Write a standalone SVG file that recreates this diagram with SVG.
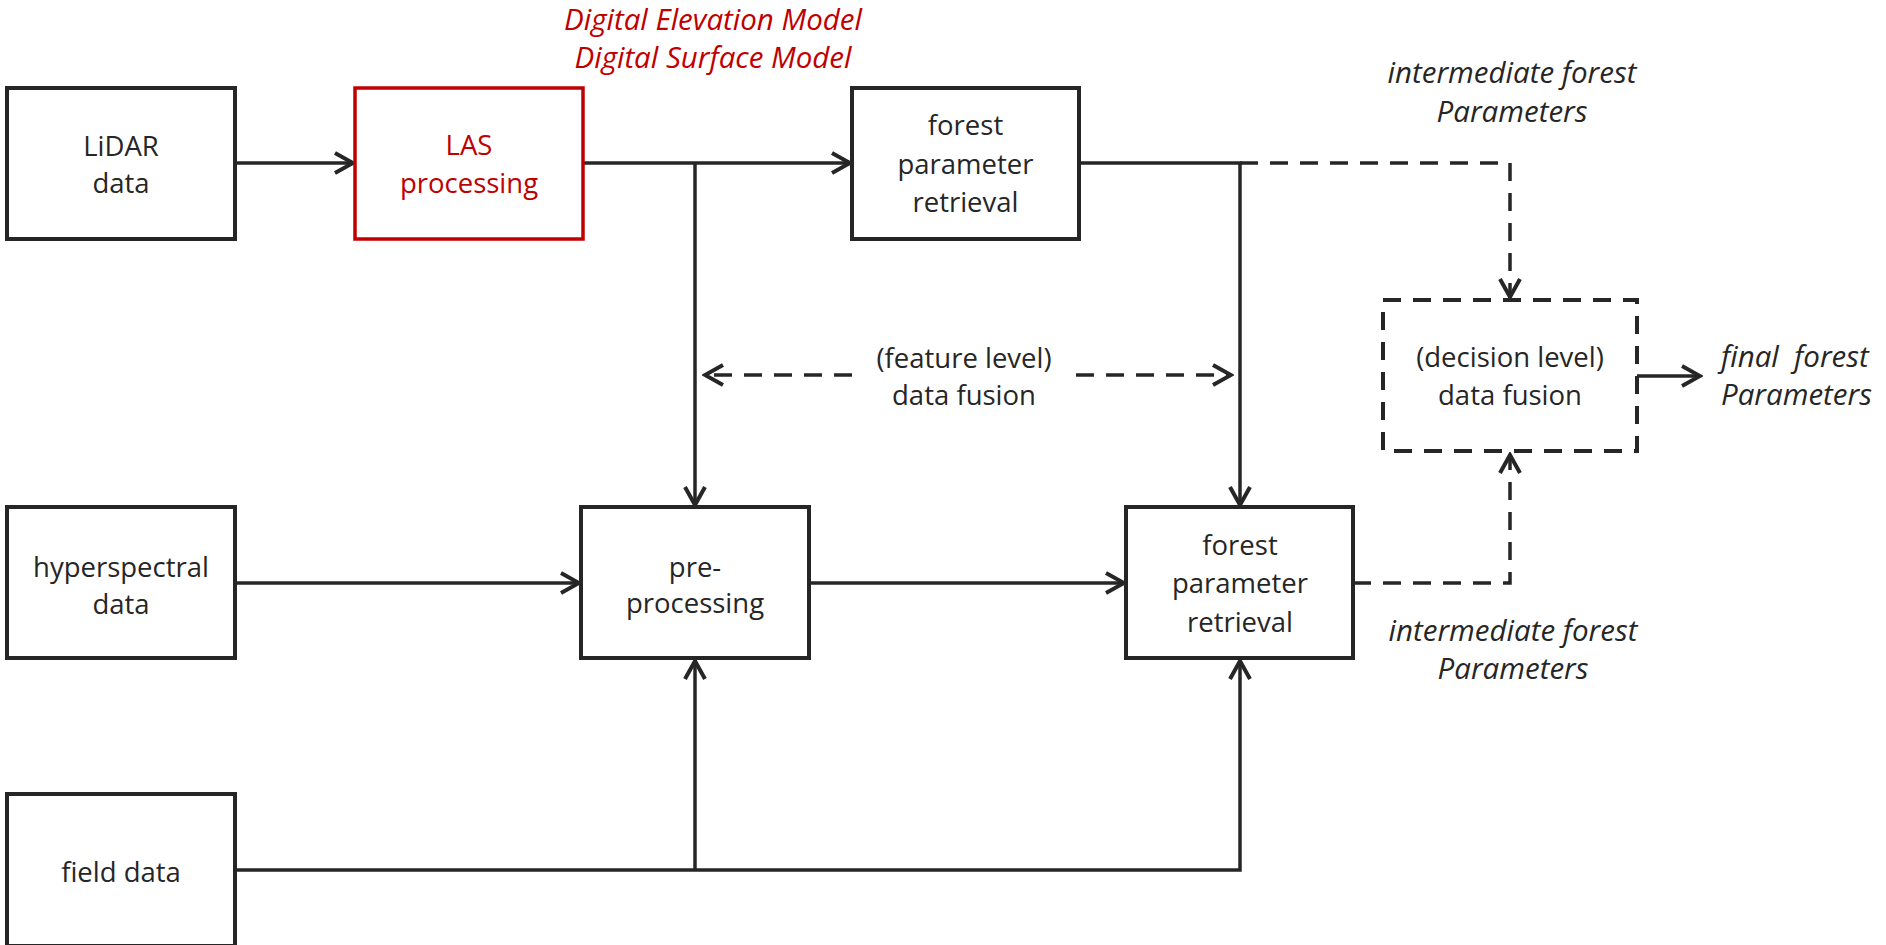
<svg xmlns="http://www.w3.org/2000/svg" width="1886" height="945" viewBox="0 0 1886 945">
  <style>
    text { font-family: "Open Sans", "Liberation Sans", sans-serif; font-size: 27.5px; fill: #262626; text-anchor: middle; }
    .it { font-style: italic; font-size: 29.5px; }
    .red { fill: #c00000; }
    .left { text-anchor: start; }
    .box { fill: #ffffff; stroke: #262626; stroke-width: 4; }
    .box-red { fill: #ffffff; stroke: #c00000; stroke-width: 3.5; }
    .box-dash { fill: none; stroke: #262626; stroke-width: 4; stroke-dasharray: 18 12; }
    .wire { fill: none; stroke: #262626; stroke-width: 3.5; }
    .dash { fill: none; stroke: #262626; stroke-width: 3.5; stroke-dasharray: 18 12; }
  </style>
  <defs>
    <marker id="arrow" viewBox="0 0 24 24" markerUnits="userSpaceOnUse" markerWidth="24" markerHeight="24" refX="21" refY="12" orient="auto-start-reverse">
      <path d="M3,2 L21,12 L3,22" fill="none" stroke="#262626" stroke-width="4" stroke-linejoin="miter"/>
    </marker>
  </defs>

  <rect width="1886" height="945" fill="#ffffff"/>

  <!-- connectors -->
  <g id="connectors">
    <!-- LiDAR to LAS processing -->
    <path class="wire" d="M235,163 H353" marker-end="url(#arrow)"/>
    <!-- LAS processing to upper retrieval -->
    <path class="wire" d="M583,163 H850" marker-end="url(#arrow)"/>
    <!-- LAS branch down to pre-processing -->
    <path class="wire" d="M695,163 V505" marker-end="url(#arrow)"/>
    <!-- upper retrieval down to lower retrieval -->
    <path class="wire" d="M1079,163 H1240 V505" marker-end="url(#arrow)"/>
    <!-- upper retrieval to decision fusion -->
    <path class="dash" d="M1240,163 H1510 V297" marker-end="url(#arrow)"/>
    <!-- feature level fusion double arrow -->
    <path class="dash" d="M852,375 H705" marker-end="url(#arrow)"/>
    <path class="dash" d="M1076,375 H1231" marker-end="url(#arrow)"/>
    <!-- hyperspectral to pre-processing -->
    <path class="wire" d="M235,583 H579" marker-end="url(#arrow)"/>
    <!-- pre-processing to lower retrieval -->
    <path class="wire" d="M809,583 H1124" marker-end="url(#arrow)"/>
    <!-- lower retrieval to decision fusion -->
    <path class="dash" d="M1353,583 H1510 V455" marker-end="url(#arrow)"/>
    <!-- field data to both processing steps -->
    <path class="wire" d="M235,870 H1240 V661" marker-end="url(#arrow)"/>
    <path class="wire" d="M695,870 V661" marker-end="url(#arrow)"/>
    <!-- decision fusion to final output -->
    <path class="wire" d="M1637,376 H1700" marker-end="url(#arrow)"/>
  </g>

  <g id="lidar">
    <rect class="box" x="7" y="88" width="228" height="151"/>
    <text x="121" y="156">LiDAR</text>
    <text x="121" y="193">data</text>
  </g>

  <g id="las">
    <rect class="box-red" x="355" y="88" width="228" height="151"/>
    <text class="red" x="469" y="155">LAS</text>
    <text class="red" x="469" y="193">processing</text>
  </g>

  <g id="models">
    <text class="it red" x="713" y="30">Digital Elevation Model</text>
    <text class="it red" x="713" y="68">Digital Surface Model</text>
  </g>

  <g id="retrieval-top">
    <rect class="box" x="852" y="88" width="227" height="151"/>
    <text x="965.5" y="135">forest</text>
    <text x="965.5" y="174">parameter</text>
    <text x="965.5" y="212">retrieval</text>
  </g>

  <g id="intermediate-top">
    <text class="it" x="1512" y="83">intermediate forest</text>
    <text class="it" x="1512" y="122">Parameters</text>
  </g>

  <g id="feature-fusion">
    <text x="964" y="368">(feature level)</text>
    <text x="964" y="405">data fusion</text>
  </g>

  <g id="decision-fusion">
    <rect class="box-dash" x="1383" y="300" width="254" height="151"/>
    <text x="1510" y="367">(decision level)</text>
    <text x="1510" y="405">data fusion</text>
  </g>

  <g id="final">
    <text class="it left" x="1721" y="367">final&#160; forest</text>
    <text class="it left" x="1721" y="405">Parameters</text>
  </g>

  <g id="hyperspectral">
    <rect class="box" x="7" y="507" width="228" height="151"/>
    <text x="121" y="577">hyperspectral</text>
    <text x="121" y="614">data</text>
  </g>

  <g id="preprocessing">
    <rect class="box" x="581" y="507" width="228" height="151"/>
    <text x="695" y="577">pre-</text>
    <text x="695" y="613">processing</text>
  </g>

  <g id="retrieval-bottom">
    <rect class="box" x="1126" y="507" width="227" height="151"/>
    <text x="1240" y="555">forest</text>
    <text x="1240" y="593">parameter</text>
    <text x="1240" y="632">retrieval</text>
  </g>

  <g id="intermediate-bottom">
    <text class="it" x="1513" y="641">intermediate forest</text>
    <text class="it" x="1513" y="679">Parameters</text>
  </g>

  <g id="field">
    <rect class="box" x="7" y="794" width="228" height="152"/>
    <text x="121" y="882">field data</text>
  </g>
</svg>
